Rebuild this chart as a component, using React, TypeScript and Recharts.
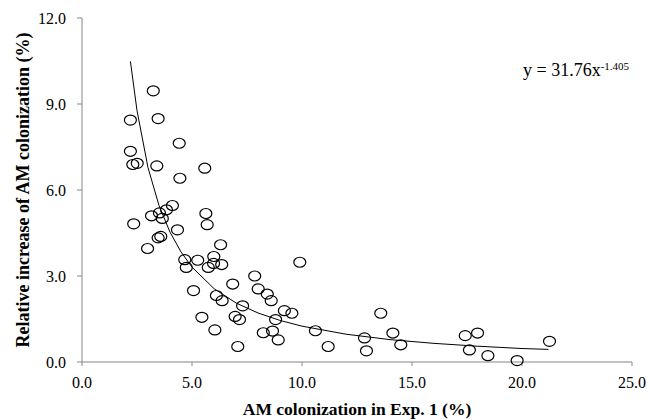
import { ScatterChart, Scatter, XAxis, YAxis } from "recharts";

// AM colonization in Exp. 1 (%) vs relative increase (%)
const colonization = [
  2.2, 2.2, 2.31, 2.35, 2.51, 2.98, 3.16, 3.24, 3.4, 3.46, 3.46, 3.52, 3.58, 3.65, 3.84, 4.11,
  4.34, 4.42, 4.45, 4.67, 4.74, 5.07, 5.26, 5.45, 5.58, 5.63, 5.69, 5.74, 5.98, 5.99, 6.04, 6.11,
  6.3, 6.35, 6.37, 6.85, 6.96, 7.08, 7.16, 7.3, 7.85, 8.01, 8.24, 8.42, 8.6, 8.66, 8.8, 8.92,
  9.2, 9.54, 9.9, 10.61, 11.19, 12.84, 12.93, 13.58, 14.13, 14.49, 17.42, 17.61, 17.98, 18.45,
  19.78, 21.25,
];
const increase = [
  8.44, 7.35, 6.89, 4.82, 6.93, 3.96, 5.1, 9.46, 6.84, 8.49, 4.33, 5.2, 4.38, 5.01, 5.31, 5.46,
  4.61, 7.63, 6.41, 3.57, 3.3, 2.49, 3.55, 1.56, 6.76, 5.18, 4.79, 3.3, 3.44, 3.68, 1.12, 2.32,
  4.09, 3.4, 2.14, 2.72, 1.59, 0.54, 1.48, 1.96, 3.0, 2.55, 1.02, 2.37, 2.14, 1.08, 1.48, 0.77,
  1.79, 1.7, 3.48, 1.09, 0.54, 0.84, 0.39, 1.7, 1.01, 0.6, 0.92, 0.42, 1.01, 0.22,
  0.05, 0.72,
];

// power trend line as drawn (y = 31.76x^-1.405)
const fitX = [2.2, 2.5, 3, 3.5, 4, 4.5, 5, 6, 7, 8, 9, 10, 12, 14, 16, 18, 20, 21.2];
const fitY = [10.49, 8.77, 6.78, 5.46, 4.53, 3.84, 3.31, 2.56, 2.06, 1.71, 1.45, 1.25, 0.97, 0.78, 0.65, 0.55, 0.47, 0.44];

const xTicks = [0, 5, 10, 15, 20, 25];
const yTicks = [0, 3, 6, 9, 12];

const points = colonization.map((x, i) => ({ x, y: increase[i] }));
const fit = fitX.map((x, i) => ({ x, y: fitY[i] }));

const FONT = "'Liberation Serif', 'Times New Roman', serif";
const AXIS = "#868686";

function OpenCircle(props: any) {
  const { cx, cy } = props;
  if (cx == null || cy == null) return <g />;
  return <ellipse cx={cx} cy={cy} rx={6} ry={5} fill="none" stroke="#000" strokeWidth={1.2} />;
}

function YTitle({ viewBox }: any) {
  const cx = 22.5;
  const cy = viewBox.y + viewBox.height / 2;
  return (
    <text
      x={cx}
      y={cy}
      transform={`rotate(-90 ${cx} ${cy})`}
      textAnchor="middle"
      dominantBaseline="central"
      fontFamily={FONT}
      fontWeight="bold"
      fontSize={18}
      fill="#000"
    >
      Relative increase of AM colonization (%)
    </text>
  );
}

function XTitle({ viewBox }: any) {
  return (
    <text
      x={viewBox.x + viewBox.width / 2}
      y={415}
      textAnchor="middle"
      fontFamily={FONT}
      fontWeight="bold"
      fontSize={17.5}
      fill="#000"
    >
      AM colonization in Exp. 1 (%)
    </text>
  );
}

export default function App() {
  return (
    <div style={{ position: "absolute", left: 0, top: 0, width: 650, height: 420, background: "#fff" }}>
      <ScatterChart width={650} height={420} margin={{ top: 18, right: 18, left: 0, bottom: 0 }}>
        <XAxis
          type="number"
          dataKey="x"
          domain={[0, 25]}
          ticks={xTicks}
          interval={0}
          height={58}
          tickFormatter={(v: number) => v.toFixed(1)}
          tick={{ fill: "#000", fontSize: 16, fontFamily: FONT }}
          axisLine={{ stroke: AXIS }}
          tickLine={{ stroke: AXIS }}
          tickSize={4}
          tickMargin={11}
          label={<XTitle />}
        />
        <YAxis
          type="number"
          dataKey="y"
          domain={[0, 12]}
          ticks={yTicks}
          interval={0}
          width={82}
          tickFormatter={(v: number) => v.toFixed(1)}
          tick={{ fill: "#000", fontSize: 16, fontFamily: FONT }}
          axisLine={{ stroke: AXIS }}
          tickLine={{ stroke: AXIS }}
          tickSize={5}
          tickMargin={11}
          label={<YTitle />}
        />
        <Scatter
          data={fit}
          line={{ stroke: "#000", strokeWidth: 1 }}
          lineType="joint"
          shape={() => <g />}
          isAnimationActive={false}
        />
        <Scatter data={points} shape={<OpenCircle />} isAnimationActive={false} />
      </ScatterChart>
      <div
        style={{
          position: "absolute",
          left: 523,
          top: 55,
          fontFamily: FONT,
          fontSize: 18,
          lineHeight: "22px",
          color: "#000",
          whiteSpace: "nowrap",
        }}
      >
        y = 31.76x<sup style={{ fontSize: 11, verticalAlign: "6px" }}>-1.405</sup>
      </div>
    </div>
  );
}
